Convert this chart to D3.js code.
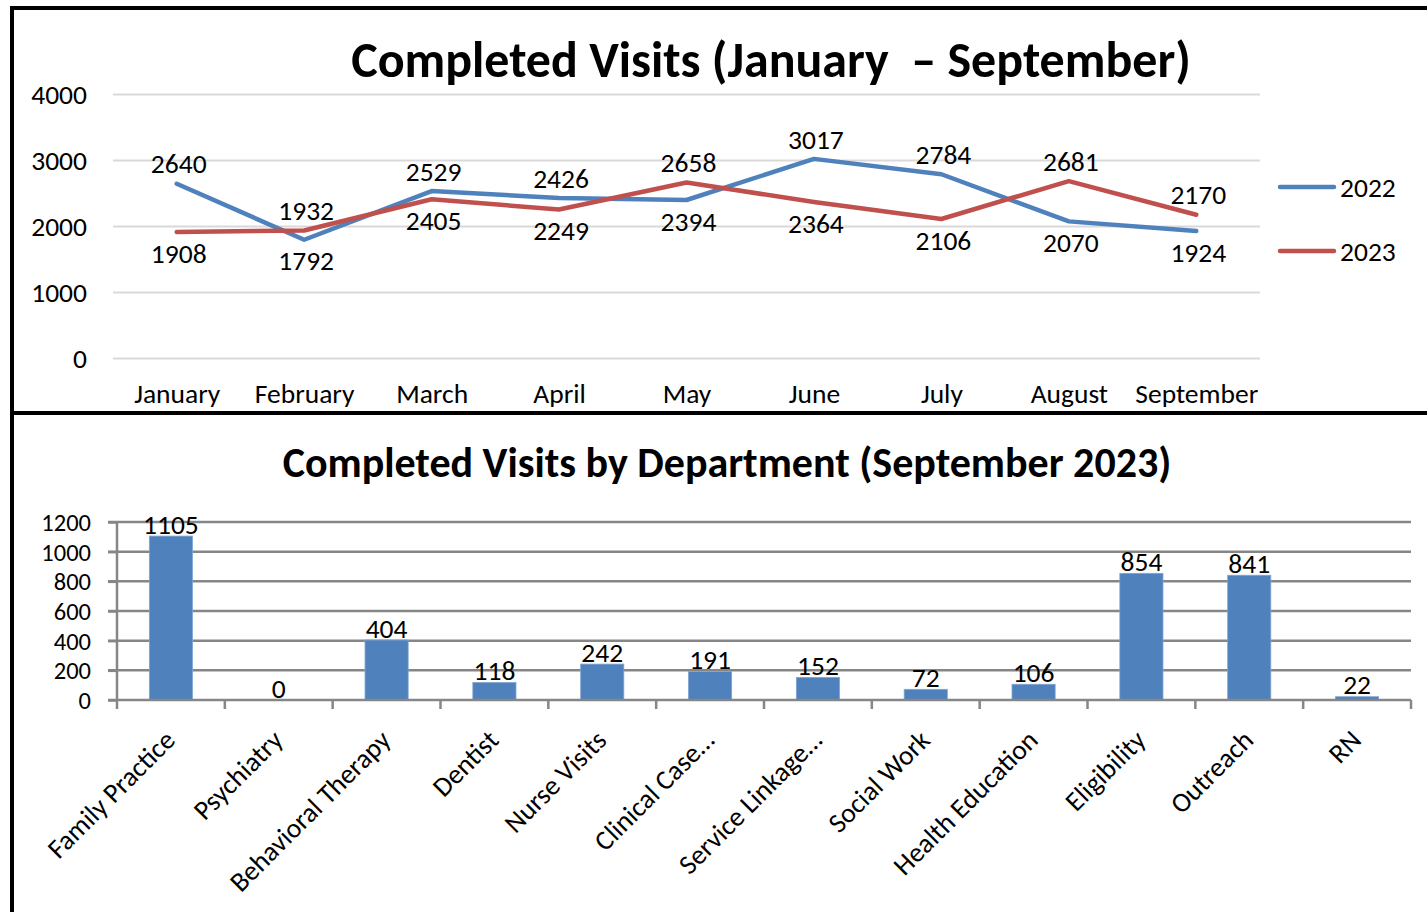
<!DOCTYPE html>
<html>
<head>
<meta charset="utf-8">
<script src="https://cdn.jsdelivr.net/npm/d3@7"></script>
<style>
  body { margin: 0; background: #fff; }
  svg text { font-family: Carlito, Calibri, Lato, sans-serif; fill: #000; }
</style>
</head>
<body>
<svg id="chart" width="1427" height="912"></svg>
<script>
// top chart data
const months = ["January", "February", "March", "April", "May", "June", "July", "August", "September"];
const visits2022 = [2640, 1792, 2529, 2426, 2394, 3017, 2784, 2070, 1924];
const visits2023 = [1908, 1932, 2405, 2249, 2658, 2364, 2106, 2681, 2170];
const topTicks = [0, 1000, 2000, 3000, 4000];

// bottom chart data
const departments = ["Family Practice", "Psychiatry", "Behavioral Therapy", "Dentist", "Nurse Visits",
    "Clinical Case…", "Service Linkage…", "Social Work", "Health Education", "Eligibility", "Outreach", "RN"];
const deptVisits = [1105, 0, 404, 118, 242, 191, 152, 72, 106, 854, 841, 22];
const bottomTicks = [0, 200, 400, 600, 800, 1000, 1200];

const blue = "#4f81bd", red = "#c0504d";
const fs = 27.5;
const svg = d3.select("#chart");

// frames
svg.append("path")
    .attr("d", "M12,912 V8 H1427 M12,413 H1427")
    .attr("fill", "none").attr("stroke", "#000").attr("stroke-width", 4);

// ---------- line chart ----------
let x1 = d3.scalePoint().domain(months).range([113, 1260]).padding(0.5);
let y1 = d3.scaleLinear().domain([0, 4000]).range([358, 94]);

svg.append("text")
    .attr("x", 771).attr("y", 77)
    .attr("text-anchor", "middle")
    .attr("font-size", 50).attr("font-weight", "bold")
    .style("white-space", "pre")
    .text("Completed Visits (January  – September)");

let gy1 = svg.append("g")
    .attr("transform", "translate(113,0)")
    .call(d3.axisLeft(y1).tickValues(topTicks).tickSize(-(1260 - 113)).tickPadding(26).tickFormat(d3.format("d")));
gy1.select(".domain").remove();
gy1.selectAll("line").attr("stroke", "#d9d9d9").attr("stroke-width", 2);
gy1.selectAll("text").attr("font-size", fs).attr("dy", "0.35em");

let gx1 = svg.append("g")
    .attr("transform", "translate(0,358)")
    .call(d3.axisBottom(x1).tickSize(0).tickPadding(35));
gx1.select(".domain").remove();
gx1.selectAll("text").attr("font-size", fs).attr("dy", "0.35em");

let series = [
    {name: "2022", values: visits2022, color: blue, other: visits2023},
    {name: "2023", values: visits2023, color: red, other: visits2022}
];

let line = d3.line()
    .x((d, i) => x1(months[i]))
    .y(d => y1(d));

series.forEach((s, k) => {
    svg.append("path")
        .datum(s.values)
        .attr("d", line)
        .attr("fill", "none")
        .attr("stroke", s.color)
        .attr("stroke-width", 4.5)
        .attr("stroke-linecap", "round")
        .attr("stroke-linejoin", "round");

    // label goes above for the higher series, below for the lower one
    svg.append("g").selectAll("text")
        .data(s.values)
        .enter().append("text")
        .attr("x", (d, i) => x1(months[i]) + 2)
        .attr("y", (d, i) => d >= s.other[i] ? y1(d) - 20 : y1(d) + 21)
        .attr("dy", "0.35em")
        .attr("text-anchor", "middle")
        .attr("font-size", fs)
        .text(d => d);

    let ly = 187 + k * 64;
    svg.append("line")
        .attr("x1", 1280).attr("x2", 1334).attr("y1", ly).attr("y2", ly)
        .attr("stroke", s.color).attr("stroke-width", 4.5).attr("stroke-linecap", "round");
    svg.append("text")
        .attr("x", 1340).attr("y", ly).attr("dy", "0.35em")
        .attr("font-size", fs)
        .text(s.name);
});

// ---------- bar chart ----------
let x2 = d3.scaleBand().domain(departments).range([117, 1411]);
let y2 = d3.scaleLinear().domain([0, 1200]).range([700, 522]);
let barW = x2.step() * 0.4;

svg.append("text")
    .attr("x", 727).attr("y", 477)
    .attr("text-anchor", "middle")
    .attr("font-size", 42).attr("font-weight", "bold")
    .text("Completed Visits by Department (September 2023)");

// gridlines
svg.append("g").selectAll("line")
    .data(bottomTicks.filter(d => d > 0))
    .enter().append("line")
    .attr("x1", 108).attr("x2", 1411)
    .attr("y1", d => y2(d)).attr("y2", d => y2(d))
    .attr("stroke", "#868686").attr("stroke-width", 2.5);

let gy2 = svg.append("g")
    .attr("transform", "translate(117,0)")
    .call(d3.axisLeft(y2).tickValues(bottomTicks).tickSize(9).tickPadding(17).tickFormat(d3.format("d")));
gy2.selectAll("line, path").attr("stroke", "#868686").attr("stroke-width", 2.5);
gy2.select(".domain").attr("d", "M0,522V700");
gy2.selectAll("text").attr("font-size", 24.5).attr("dy", "0.35em");

svg.append("g").selectAll("rect")
    .data(deptVisits)
    .enter().append("rect")
    .attr("x", (d, i) => x2(departments[i]) + (x2.bandwidth() - barW) / 2)
    .attr("y", d => y2(d))
    .attr("width", barW)
    .attr("height", d => 700 - y2(d))
    .attr("fill", blue)
    .attr("stroke", "#7ea3d3").attr("stroke-width", 0.8);

svg.append("g").selectAll("text")
    .data(deptVisits)
    .enter().append("text")
    .attr("x", (d, i) => x2(departments[i]) + x2.bandwidth() / 2)
    .attr("y", d => y2(d) - 12)
    .attr("dy", "0.35em")
    .attr("text-anchor", "middle")
    .attr("font-size", fs)
    .text(d => d);

// x axis with ticks between categories
svg.append("line")
    .attr("x1", 108).attr("x2", 1411).attr("y1", 700).attr("y2", 700)
    .attr("stroke", "#868686").attr("stroke-width", 2.5);
svg.append("g").selectAll("line")
    .data(departments.map(d => x2(d)).concat([1411]))
    .enter().append("line")
    .attr("x1", d => d).attr("x2", d => d)
    .attr("y1", 700).attr("y2", 709)
    .attr("stroke", "#868686").attr("stroke-width", 2.5);

svg.append("g").selectAll("text")
    .data(departments)
    .enter().append("text")
    .attr("transform", d => `translate(${x2(d) + x2.bandwidth() / 2 - 1},${735}) rotate(-45)`)
    .attr("text-anchor", "end")
    .attr("dy", "0.35em")
    .attr("font-size", fs)
    .text(d => d);
</script>
</body>
</html>
